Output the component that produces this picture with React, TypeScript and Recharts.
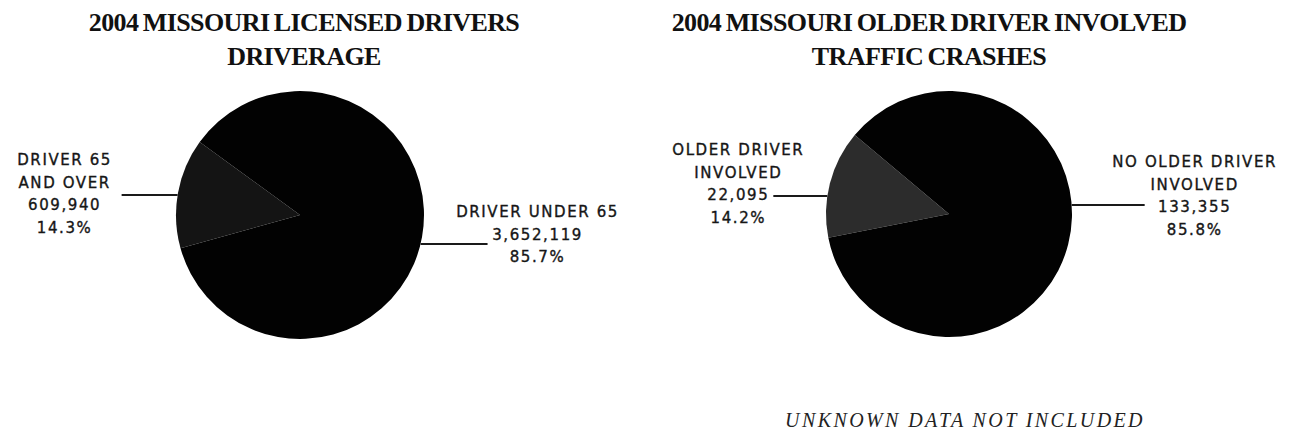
import { PieChart, Pie, Cell } from 'recharts';

const licensedNames = ['DRIVER 65 AND OVER', 'DRIVER UNDER 65'];
const licensedValues = [609940, 3652119];
const licensedPercents = ['14.3%', '85.7%'];
const licensedLabelRows = [['DRIVER 65', 'AND OVER'], ['DRIVER UNDER 65']];

const crashNames = ['OLDER DRIVER INVOLVED', 'NO OLDER DRIVER INVOLVED'];
const crashValues = [22095, 133355];
const crashPercents = ['14.2%', '85.8%'];
const crashLabelRows = [['OLDER DRIVER', 'INVOLVED'], ['NO OLDER DRIVER', 'INVOLVED']];

const licensedData = licensedNames.map((name, i) => ({ name, value: licensedValues[i] }));
const crashData = crashNames.map((name, i) => ({ name, value: crashValues[i] }));

// leader line + text placement, relative to the pie centre / rim
type LabelLayout = { lineDy: number; lineLen: number; textDx: number; firstRow: number };

const licensedLayout: LabelLayout[] = [
	{ lineDy: -20, lineLen: 56, textDx: -57, firstRow: -35 },
	{ lineDy: 29, lineLen: 67, textDx: 50, firstRow: -32 },
];
const crashLayout: LabelLayout[] = [
	{ lineDy: -18, lineLen: 54, textDx: -35, firstRow: -46 },
	{ lineDy: -9, lineLen: 73, textDx: 50, firstRow: -43 },
];

const ROW = 22.5;

const makeLabel =
	(layout: LabelLayout[], rows: string[][], percents: string[]) =>
	(props: any) => {
		const { cx, cy, outerRadius, index, value } = props;
		const l = layout[index];
		const side = l.textDx < 0 ? -1 : 1;
		const y = cy + l.lineDy;
		const x0 = cx + side * Math.sqrt(outerRadius * outerRadius - l.lineDy * l.lineDy);
		const x1 = x0 + side * l.lineLen;
		const tx = x1 + l.textDx;
		const lines = [...rows[index], Number(value).toLocaleString('en-US'), percents[index]];
		return (
			<g key={`lbl-${index}`}>
				<line x1={x0} y1={y} x2={x1} y2={y} stroke="#1a1a1a" strokeWidth={2} />
				{lines.map((t, i) => (
					<text
						key={i}
						x={tx}
						y={y + l.firstRow + i * ROW}
						textAnchor="middle"
						dominantBaseline="central"
						fill="#161616"
						stroke="#161616"
						strokeWidth={0.35}
						fontFamily="'DejaVu Sans', sans-serif"
						fontSize={15}
						letterSpacing={1.6}
					>
						{t}
					</text>
				))}
			</g>
		);
	};

const titleStyle: React.CSSProperties = {
	position: 'absolute',
	width: 640,
	textAlign: 'center',
	fontFamily: "'Liberation Serif', 'Times New Roman', serif",
	fontWeight: 'bold',
	fontSize: 26,
	letterSpacing: -0.6,
	wordSpacing: -1.5,
	lineHeight: '34px',
	color: '#111',
};

const App = () => {
	return (
		<div style={{ position: 'absolute', left: 0, top: 0, width: 1294, height: 435, background: '#fff' }}>
			<div style={{ ...titleStyle, left: 304 - 320, top: 6 }}>
				2004 MISSOURI LICENSED DRIVERS
				<br />
				DRIVERAGE
			</div>
			<div style={{ ...titleStyle, left: 929 - 320, top: 6 }}>
				2004 MISSOURI OLDER DRIVER INVOLVED
				<br />
				TRAFFIC CRASHES
			</div>
			<PieChart width={1294} height={435}>
				<Pie
					data={licensedData}
					dataKey="value"
					cx={295}
					cy={210}
					outerRadius={124}
					startAngle={144}
					endAngle={504}
					stroke="none"
					label={makeLabel(licensedLayout, licensedLabelRows, licensedPercents)}
					labelLine={false}
					isAnimationActive={false}
				>
					<Cell fill="#141414" />
					<Cell fill="#020202" />
				</Pie>
				<Pie
					data={crashData}
					dataKey="value"
					cx={944}
					cy={209}
					outerRadius={123}
					startAngle={140}
					endAngle={500}
					stroke="none"
					label={makeLabel(crashLayout, crashLabelRows, crashPercents)}
					labelLine={false}
					isAnimationActive={false}
				>
					<Cell fill="#2c2c2c" />
					<Cell fill="#020202" />
				</Pie>
			</PieChart>
			<div
				style={{
					position: 'absolute',
					left: 965 - 250,
					top: 409,
					width: 500,
					textAlign: 'center',
					fontFamily: "'Liberation Serif', 'Times New Roman', serif",
					fontStyle: 'italic',
					fontSize: 20,
					letterSpacing: 2.4,
					color: '#222',
				}}
			>
				UNKNOWN DATA NOT INCLUDED
			</div>
		</div>
	);
};

export default App;
